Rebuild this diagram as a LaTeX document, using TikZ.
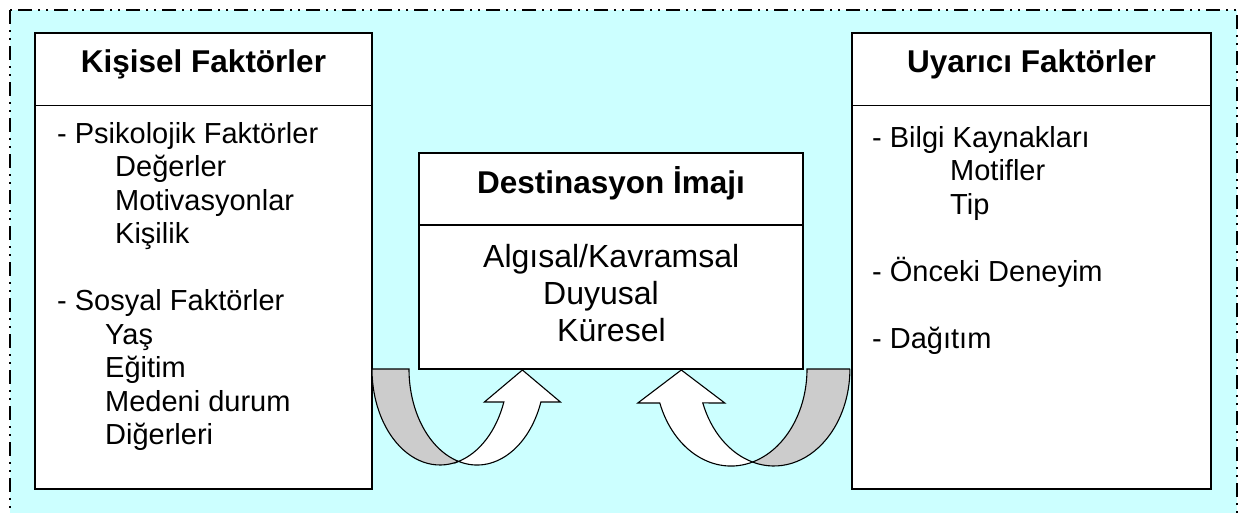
\documentclass[tikz,border=0pt]{standalone}
\usepackage{fontspec}
\setmainfont{Liberation Sans}
\definecolor{sky}{RGB}{204,255,255}
\definecolor{shade}{RGB}{204,204,204}
\begin{document}
\begin{tikzpicture}[x=1pt,y=-1pt,
  panel/.style={draw=black,line width=1.2pt,fill=white,rectangle,anchor=north west,inner sep=0pt,outer sep=0pt},
  head/.style={anchor=base,inner sep=0pt,font=\fontsize{31.5}{36}\selectfont\bfseries},
  item/.style={anchor=base west,inner sep=0pt,font=\fontsize{29}{33.5}\selectfont},
  core/.style={anchor=base west,inner sep=0pt,font=\fontsize{32}{37}\selectfont},
  back/.style={fill=shade,draw=black,line width=1.1pt},
  front/.style={fill=white,draw=black,line width=1.1pt}]
\useasboundingbox (0,0) rectangle (1247,512);
\clip (0,0) rectangle (1247,512);

% frame
\draw[fill=sky,line width=1.2pt,
  dash pattern=on 14pt off 6pt on 2pt off 6pt on 2pt off 6pt]
  (10,10) rectangle (1237,540);

% the three panels
\node[panel,minimum width=337pt,minimum height=456pt] (kisisel) at (35,33) {};
\node[panel,minimum width=384pt,minimum height=216pt] (imaj) at (419,153) {};
\node[panel,minimum width=359pt,minimum height=456pt] (uyarici) at (852,33) {};

\draw[line width=1.2pt] (kisisel.north west) ++(0,72.5) coordinate (kd) -- (kd -| kisisel.east);
\draw[line width=1.2pt] (imaj.north west) ++(0,72) coordinate (id) -- (id -| imaj.east);
\draw[line width=1.2pt] (uyarici.north west) ++(0,72.5) coordinate (ud) -- (ud -| uyarici.east);

% headings
\node[head] (hk) at (203.5,72.5) {Kişisel Faktörler};
\node[head] (hi) at (611,193) {Destinasyon İmajı};
\node[head] (hu) at (1031.5,72.5) {Uyarıcı Faktörler};

% personal factors
\node[item] (k1) at (57,143) {- Psikolojik Faktörler};
\node[item] (k2) at (115,176.5) {Değerler};
\node[item] (k3) at (115,210) {Motivasyonlar};
\node[item] (k4) at (115,243.5) {Kişilik};
\node[item] (k5) at (57,310.5) {- Sosyal Faktörler};
\node[item] (k6) at (105,344) {Yaş};
\node[item] (k7) at (105,377.5) {Eğitim};
\node[item] (k8) at (105,411) {Medeni durum};
\node[item] (k9) at (105,444.5) {Diğerleri};

% image components
\node[core] (i1) at (483,267) {Algısal/Kavramsal};
\node[core] (i2) at (543,304) {Duyusal};
\node[core] (i3) at (557,341) {Küresel};

% stimulus factors
\node[item] (u1) at (872,147) {- Bilgi Kaynakları};
\node[item] (u2) at (950,180.5) {Motifler};
\node[item] (u3) at (950,214) {Tip};
\node[item] (u4) at (872,281) {- Önceki Deneyim};
\node[item] (u5) at (872,348) {- Dağıtım};

% left curved arrow: two equal ellipses, centres 440 and 477, radii 68 x 96
\draw[back] (372,369) -- (409,369)
  arc[start angle=180,end angle=105.8,x radius=68,y radius=96]
  arc[start angle=74.2,end angle=180,x radius=68,y radius=96] -- cycle;
\draw[front] (458.5,461.4)
  arc[start angle=74.2,end angle=20.1,x radius=68,y radius=96]
  -- (484.4,402) -- (522.4,370) -- (560.4,402) -- (540.9,402)
  arc[start angle=20.1,end angle=105.8,x radius=68,y radius=96] -- cycle;

% right curved arrow: centres 774 and 731, radii 76 x 97
\draw[back] (850,369) -- (807,369)
  arc[start angle=0,end angle=73.6,x radius=76,y radius=97]
  arc[start angle=106.4,end angle=0,x radius=76,y radius=97] -- cycle;
\draw[front] (752.5,462)
  arc[start angle=106.4,end angle=159.5,x radius=76,y radius=97]
  -- (724.8,403) -- (681.3,370) -- (637.8,403) -- (659.8,403)
  arc[start angle=159.5,end angle=73.6,x radius=76,y radius=97] -- cycle;
\end{tikzpicture}
\end{document}
